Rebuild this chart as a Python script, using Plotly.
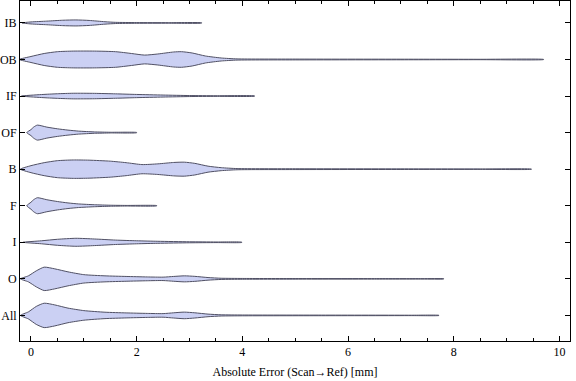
import plotly.graph_objects as go

# Categories from bottom to top
categories = ["All", "O", "I", "F", "B", "OF", "IF", "OB", "IB"]

# Density profiles (x grid in mm, relative density values)
x_IB = [-0.17, 0.0, 0.3, 0.6, 0.85, 1.1, 1.4, 1.6, 2.0, 2.6, 3.23]
d_IB = [0.0, 1.0, 1.8, 2.7, 3.0, 2.5, 1.2, 0.6, 0.35, 0.25, 0.15]

x_OB = [-0.22, 0.0, 0.25, 0.5, 0.8, 1.2, 1.6, 1.9, 2.15, 2.4, 2.7, 2.85, 3.05, 3.3, 3.6, 3.9, 5.0, 7.0, 8.5, 9.7]
d_OB = [0.0, 3.0, 6.0, 7.8, 8.4, 8.4, 7.8, 6.0, 4.4, 5.5, 7.5, 7.8, 6.5, 3.5, 1.5, 0.6, 0.4, 0.3, 0.2, 0.1]

x_IF = [-0.18, 0.2, 0.5, 0.8, 1.2, 1.6, 2.0, 2.5, 3.0, 3.5, 4.23]
d_IF = [0.0, 1.5, 2.3, 2.8, 2.7, 2.2, 1.6, 1.0, 0.5, 0.3, 0.15]

x_OF = [-0.08, 0.0, 0.05, 0.12, 0.3, 0.5, 0.7, 0.9, 1.2, 1.5, 2.0]
d_OF = [0.0, 3.0, 5.5, 7.5, 5.5, 3.8, 2.5, 1.5, 0.7, 0.35, 0.15]

x_B = [-0.2, 0.0, 0.25, 0.5, 0.8, 1.1, 1.5, 1.8, 2.1, 2.4, 2.7, 2.9, 3.1, 3.35, 3.6, 3.9, 5.0, 7.0, 8.5, 9.47]
d_B = [0.0, 3.5, 6.5, 8.5, 9.2, 9.0, 8.0, 6.5, 4.6, 5.3, 6.7, 7.0, 5.8, 3.0, 1.5, 0.6, 0.4, 0.3, 0.2, 0.1]

x_F = [-0.08, 0.0, 0.05, 0.12, 0.3, 0.5, 0.7, 0.9, 1.2, 1.5, 1.8, 2.38]
d_F = [0.0, 3.5, 6.0, 8.0, 6.0, 4.2, 2.8, 1.8, 1.0, 0.5, 0.3, 0.15]

x_I = [-0.15, 0.2, 0.5, 0.85, 1.2, 1.6, 2.0, 2.4, 3.0, 3.5, 3.99]
d_I = [0.0, 1.5, 3.0, 4.0, 3.3, 2.2, 1.5, 1.0, 0.5, 0.3, 0.15]

x_O = [-0.2, -0.05, 0.1, 0.25, 0.45, 0.7, 1.0, 1.4, 1.8, 2.2, 2.5, 2.7, 2.9, 3.1, 3.35, 3.6, 4.0, 5.0, 6.5, 7.4, 7.81]
d_O = [0.0, 3.0, 8.0, 11.7, 10.0, 7.0, 4.2, 3.0, 2.4, 1.9, 1.7, 2.4, 3.0, 2.5, 1.3, 0.6, 0.4, 0.3, 0.25, 0.2, 0.1]

x_All = [-0.2, -0.05, 0.1, 0.25, 0.45, 0.7, 1.0, 1.4, 1.8, 2.2, 2.5, 2.7, 2.9, 3.1, 3.35, 3.6, 4.0, 5.5, 7.2, 7.72]
d_All = [0.0, 3.5, 9.0, 12.2, 10.5, 7.3, 4.8, 3.2, 2.5, 2.0, 1.8, 2.6, 3.3, 2.6, 1.3, 0.6, 0.4, 0.3, 0.2, 0.1]

profiles = {
    "All": (x_All, d_All), "O": (x_O, d_O), "I": (x_I, d_I), "F": (x_F, d_F),
    "B": (x_B, d_B), "OF": (x_OF, d_OF), "IF": (x_IF, d_IF), "OB": (x_OB, d_OB),
    "IB": (x_IB, d_IB),
}

x_ticks = [0, 2, 4, 6, 8, 10]
x_title = "Absolute Error (Scan\u2192Ref) [mm]"

WIDTH_SCALE = 1 / 36.56  # density units -> category spacing
FILL = "rgb(203,208,243)"
EDGE = "rgb(80,80,100)"
FONT = "Liberation Serif"

fig = go.Figure()
for i, cat in enumerate(categories):
    xs, ds = profiles[cat]
    upper = [i + d * WIDTH_SCALE for d in ds]
    lower = [i - d * WIDTH_SCALE for d in ds]
    px = list(xs) + list(xs[::-1])
    py = upper + lower[::-1]
    fig.add_trace(go.Scatter(
        x=px, y=py, mode="lines", fill="toself", fillcolor=FILL,
        line=dict(color=EDGE, width=1, shape="spline", smoothing=0.6),
        showlegend=False, hoverinfo="skip",
    ))

fig.update_layout(
    width=576, height=381,
    margin=dict(l=20, r=6, t=1, b=40, autoexpand=False),
    plot_bgcolor="white", paper_bgcolor="white",
    font=dict(family=FONT, size=12, color="black"),
)
fig.update_xaxes(
    range=[-0.208, 10.2], tickvals=x_ticks, ticktext=[str(v) for v in x_ticks],
    ticks="inside", ticklen=5, tickcolor="black", tickwidth=1,
    minor=dict(dtick=0.5, tick0=0, ticks="inside", ticklen=3, tickcolor="black"),
    showline=True, linecolor="black", linewidth=1, mirror="allticks",
    showgrid=False, zeroline=False, automargin=False,
    title=dict(text=x_title, font=dict(family=FONT, size=12), standoff=9),
)
fig.update_yaxes(
    range=[-0.70, 8.60], tickvals=list(range(len(categories))), ticktext=categories,
    ticks="inside", ticklen=5, tickcolor="black", tickwidth=1,
    showline=True, linecolor="black", linewidth=1, mirror="allticks",
    showgrid=False, zeroline=False, ticklabelstandoff=0, automargin=False,
)

fig.write_html("out.html", config={"displayModeBar": False},
               post_script="document.body.style.margin='0';")
